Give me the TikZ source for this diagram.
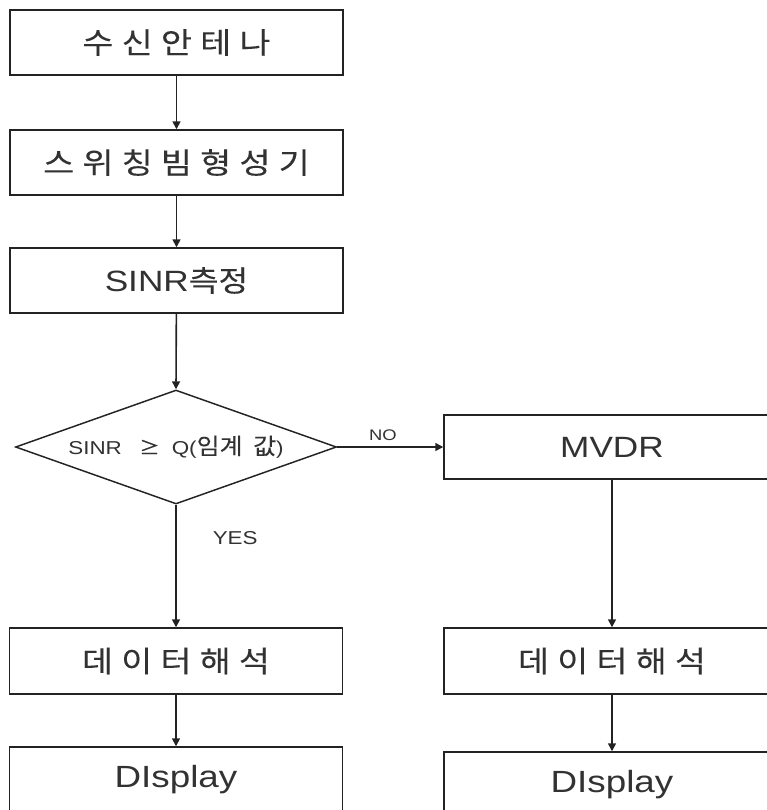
\documentclass[tikz,border=0pt]{standalone}
\usepackage{fontspec}
\setmainfont{Liberation Sans}[FakeStretch=1.2]
\newfontfamily\kr{Noto Sans CJK KR}[FakeStretch=1.1,FakeBold=0.15]
\newfontfamily\krwide{Noto Sans CJK KR}[FakeStretch=1.15,FakeBold=0.15,LetterSpace=28]
\usetikzlibrary{shapes.geometric,arrows.meta}

\definecolor{linegray}{RGB}{35,35,35}
\definecolor{txtgray}{RGB}{50,50,50}

\tikzset{
  box/.style={draw=linegray, line width=1.1pt, rectangle, inner sep=0pt,
    minimum width=249.75pt, minimum height=48.75pt, text=txtgray,
    font=\fontsize{23}{26}\selectfont},
  hangul/.style={font=\fontsize{22}{25}\selectfont\krwide},
  decision/.style={draw=linegray, line width=1.1pt, diamond, inner sep=0pt,
    minimum width=240.75pt, minimum height=85.5pt},
  condtext/.style={text=txtgray, inner sep=0pt, font=\fontsize{14}{16}\selectfont},
  flow/.style={draw=linegray, line width=1.2pt, -{Triangle[length=6pt,width=6pt]}},
  tag/.style={text=txtgray, inner sep=0pt, font=\fontsize{11.5}{14}\selectfont}
}

\begin{document}
\begin{tikzpicture}[x=0.75pt,y=0.75pt,yscale=-1,xscale=1]
    \useasboundingbox (0,0) rectangle (767,810);
    \clip (0,0) rectangle (767,810);

    %Shape: Rectangle [left column]
    \node[box, hangul] (ant) at (176.5,42.5) {수신안테나};
    \node[box, hangul] (swb) at (176.5,162.5) {스위칭빔형성기};
    \node[box, font=\fontsize{22}{25}\selectfont] (sinr) at (176.5,280.5) {SINR{\kr 측정}};
    %Shape: Diamond
    \node[decision] (dec) at (176,447) {};
    \node[condtext] at (dec) {SINR\hspace{13pt}{\kr ≥}\hspace{9pt}Q({\kr\fontsize{17}{19}\selectfont 임계\hspace{8pt}값})};
    \node[box, hangul, minimum height=49.5pt] (datL) at (176,661) {데이터해석};
    \node[box] (dispL) at (176,779.5) {DIsplay};

    %Shape: Rectangle [right column]
    \node[box, minimum width=252pt, minimum height=48pt, font=\fontsize{22}{25}\selectfont] (mvdr) at (612,447) {MVDR};
    \node[box, hangul, minimum width=252pt, minimum height=49.5pt] (datR) at (612,661) {데이터해석};
    \node[box, minimum width=252pt] (dispR) at (612,784.5) {DIsplay};

    %Straight Lines
    \draw[flow] (ant) -- (swb);
    \draw[flow] (swb) -- (sinr);
    \draw[flow] (sinr) -- (dec.north);
    \draw[flow] (dec.east) -- node[tag, pos=.43, above=4pt] {NO} (mvdr.west);
    \draw[flow] (dec.south) -- node[tag, pos=.27, anchor=west, xshift=27pt, font=\fontsize{14}{16}\selectfont] {YES} (datL.north);
    \draw[flow] (mvdr) -- (datR);
    \draw[flow] (datL) -- (dispL);
    \draw[flow] (datR) -- (dispR);

\end{tikzpicture}
\end{document}
